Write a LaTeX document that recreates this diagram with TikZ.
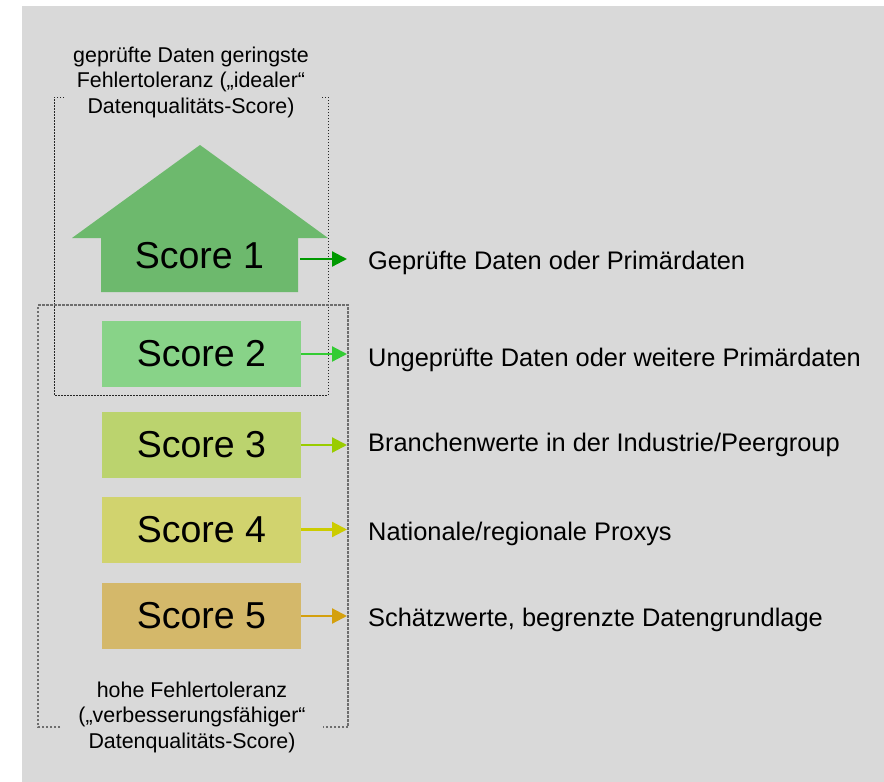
\documentclass[tikz,border=0pt]{standalone}
\usepackage{fontspec}
\setmainfont{Liberation Sans}
\usetikzlibrary{arrows.meta}
\usetikzlibrary{positioning}
\definecolor{dq-bg}{HTML}{D9D9D9}
\definecolor{dq-house}{HTML}{6DB96D}
\definecolor{dq-s2}{HTML}{88D388}
\definecolor{dq-s3}{HTML}{BBD36E}
\definecolor{dq-s4}{HTML}{D1D36E}
\definecolor{dq-s5}{HTML}{D4B86A}
\definecolor{dq-a1}{HTML}{009900}
\definecolor{dq-a2}{HTML}{33CC33}
\definecolor{dq-a3}{HTML}{99CC00}
\definecolor{dq-a4}{HTML}{CCCC00}
\definecolor{dq-a5}{HTML}{D4A00E}
\definecolor{dq-frame}{HTML}{6E6E6E}

\begin{document}
\begin{tikzpicture}[x=1pt, y=-1pt,
    scorebox/.style={minimum width=199pt, minimum height=66pt, inner sep=0pt, font=\fontsize{37.5}{42}\selectfont},
    scorearrow/.style={-{Triangle[length=15pt,width=15pt]}, line width=2.2pt, shorten >=21pt},
    desc/.style={anchor=base west, inner sep=0pt, font=\fontsize{25.4}{30}\selectfont},
    note/.style={anchor=north, align=center, inner sep=0pt, font=\fontsize{21.4}{25.5}\selectfont}]

    % Hintergrund
    \useasboundingbox (0,0) rectangle (884,782);
    \fill[dq-bg] (22,6) rectangle (884,782);

    % --- KLAMMERN (gestrichelt) ---
    \draw[black!85, line width=0.9pt, dash pattern=on 1.5pt off 1.5pt]
        (64,97) -- (54,97) -- (54,395) -- (328,395) -- (328,97) -- (320,97);
    \draw[dq-frame, line width=1.2pt, dash pattern=on 2.5pt off 1.5pt]
        (60,727) -- (38,727) -- (38,305) -- (348,305) -- (348,727) -- (323,727);

    % --- PFEIL-FORM FUER SCORE 1 ---
    \fill[dq-house] (200,145) -- (328,238) -- (298,238) -- (298,292)
        -- (101,292) -- (101,238) -- (72,238) -- cycle;

    % --- SCORES ---
    \node[font=\fontsize{37.5}{42}\selectfont, minimum width=201pt, inner sep=0pt, text depth=7pt]
        (score1) at (199.5,259) {Score 1};
    \node[scorebox, fill=dq-s2] (score2) at (201.5,354) {Score 2};
    \node[scorebox, fill=dq-s3] (score3) at (201.5,445) {Score 3};
    \node[scorebox, fill=dq-s4] (score4) at (201.5,529.5) {Score 4};
    \node[scorebox, fill=dq-s5] (score5) at (201.5,616) {Score 5};

    % --- BESCHREIBUNGEN ---
    \node[desc] (desc1) at (368,269) {Geprüfte Daten oder Primärdaten};
    \node[desc] (desc2) at (368,366) {Ungeprüfte Daten oder weitere Primärdaten};
    \node[desc] (desc3) at (368,451) {Branchenwerte in der Industrie/Peergroup};
    \node[desc] (desc4) at (368,540) {Nationale/regionale Proxys};
    \node[desc] (desc5) at (368,626) {Schätzwerte, begrenzte Datengrundlage};

    % --- PFEILE ---
    \draw[scorearrow, dq-a1] (score1.east) -- (score1.east -| desc1.west);
    \draw[scorearrow, dq-a2] (score2.east) -- (score2.east -| desc2.west);
    \draw[scorearrow, dq-a3] (score3.east) -- (score3.east -| desc3.west);
    \draw[scorearrow, dq-a4] (score4.east) -- (score4.east -| desc4.west);
    \draw[scorearrow, dq-a5] (score5.east) -- (score5.east -| desc5.west);

    % --- HINWEISE OBEN / UNTEN ---
    \node[note] (noteTop) at (191,46.5) {geprüfte Daten geringste\\Fehlertoleranz („idealer“\\Datenqualitäts-Score)};
    \node[note] (noteBottom) at (192,681.5) {hohe Fehlertoleranz\\(„verbesserungsfähiger“\\Datenqualitäts-Score)};

\end{tikzpicture}
\end{document}
